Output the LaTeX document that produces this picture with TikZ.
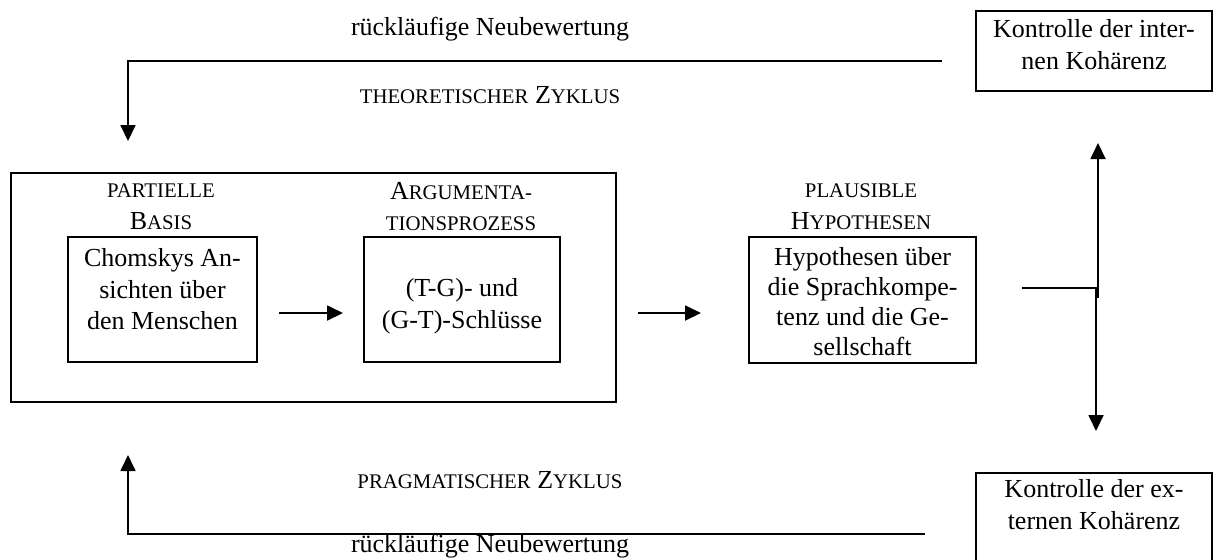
\documentclass[tikz,border=0pt]{standalone}
\usepackage{fontspec}
\setmainfont{Liberation Serif}
\usetikzlibrary{arrows.meta}
% faked small capitals
\newcommand\smc[1]{{\fontsize{10.4pt}{12pt}\selectfont #1}}
% boxed text: width, height, height of the first line, lines
\newcommand\boxtext[4]{\parbox[c][#2][t]{#1}{\centering\rule{0pt}{#3}#4}}
\begin{document}
\begin{tikzpicture}[x=0.5pt,y=-0.5pt,
  every node/.style={font=\fontsize{13pt}{15.75pt}\selectfont, inner sep=0pt},
  frame/.style={draw, line width=1pt, inner sep=0pt, anchor=north west},
  conn/.style={line width=0.9pt},
  arr/.style={conn, -{Triangle[length=8pt,width=7.5pt]}},
]
\useasboundingbox (0,0) rectangle (1213,559);

% outer frame around basis and argumentation
\node[frame, minimum width=302.5pt, minimum height=114.5pt] (outer) at (10,172) {};

% boxes
\node[frame] (b1) at (67,236)
  {\boxtext{94.5pt}{62.5pt}{14.75pt}{Chomskys An-\\sichten über\\den Menschen}};
\node[frame] (b2) at (363,236)
  {\boxtext{98pt}{62.5pt}{29.75pt}{(T-G)- und\\(G-T)-Schlüsse}};
\node[frame] (b3) at (748,236)
  {\boxtext{113.5pt}{63pt}{14pt}{\fontsize{13pt}{15pt}\selectfont
   Hypothesen über\\die Sprachkompe-\\tenz und die Ge-\\sellschaft}};
\node[frame] (kint) at (975,10)
  {\boxtext{118pt}{40pt}{13.25pt}{Kontrolle der inter-\\nen Kohärenz}};
\node[frame] (kext) at (975,472)
  {\boxtext{118pt}{50pt}{12.25pt}{Kontrolle der ex-\\ternen Kohärenz}};

% headings above the boxes
\node[align=center] (hpb) at (161,206.5) {\smc{PARTIELLE}\\B\smc{ASIS}};
\node[align=center] (hap) at (461,206.5) {A\smc{RGUMENTA-}\\\smc{TIONSPROZESS}};
\node[align=center] (hph) at (861,206.5) {\smc{PLAUSIBLE}\\H\smc{YPOTHESEN}};

% cycle labels
\node[anchor=base] (rn1) at (490,35) {rückläufige Neubewertung};
\node[anchor=base] (tz) at (490,103) {\smc{THEORETISCHER} Z\smc{YKLUS}};
\node[anchor=base] (pz) at (490,488) {\smc{PRAGMATISCHER} Z\smc{YKLUS}};
\node[anchor=base] (rn2) at (490,552) {rückläufige Neubewertung};

% theoretical cycle
\coordinate (t1) at (942,61);
\coordinate (t2) at (128,141);
\draw[arr] (t1) -| (t2);

% pragmatic cycle
\coordinate (p1) at (925,534);
\coordinate (p2) at (128,455);
\draw[arr] (p1) -| (p2);

% flow between the boxes
\coordinate (a1s) at (279,313);
\coordinate (a1e) at (343,313);
\draw[arr] (a1s) -- (a1e);
\coordinate (a2s) at (638,313);
\coordinate (a2e) at (701,313);
\draw[arr] (a2s) -- (a2e);

% branching to the two coherence checks
\coordinate (hs) at (1022,288);
\coordinate (tj) at (1097,288);
\coordinate (tu) at (1098,298);
\coordinate (up) at (1098,143);
\coordinate (td) at (1096,288);
\coordinate (dn) at (1096,431);
\draw[conn] (hs) -- (tj);
\draw[arr] (tu) -- (up);
\draw[arr] (td) -- (dn);
\end{tikzpicture}
\end{document}
